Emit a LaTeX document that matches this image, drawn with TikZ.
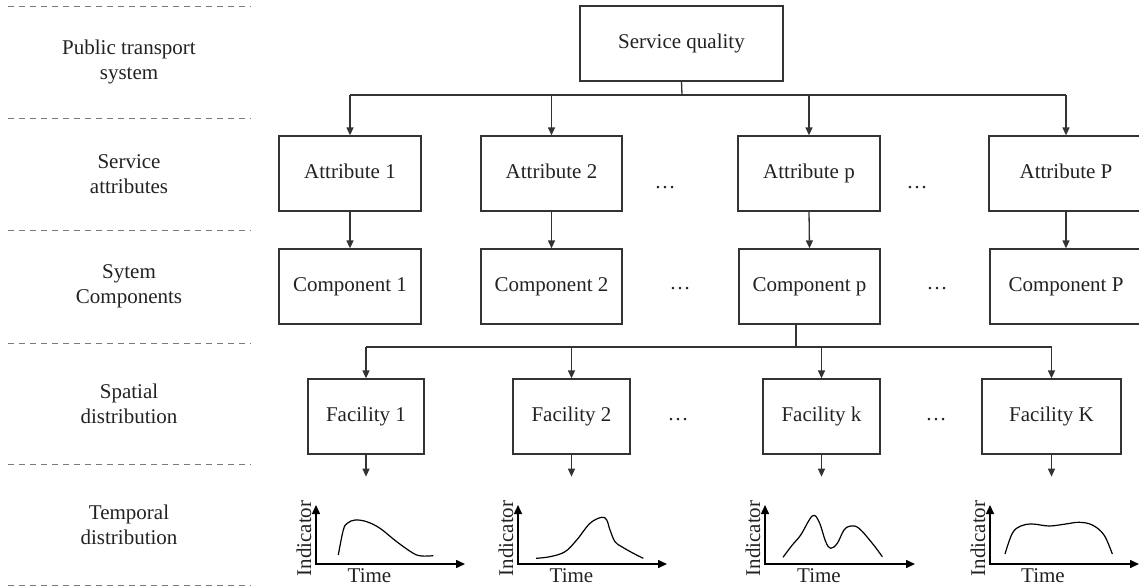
\documentclass[tikz,border=0pt]{standalone}
\usepackage{fontspec}
\setmainfont{Liberation Serif}
\usetikzlibrary{arrows.meta}
\definecolor{boxc}{HTML}{333333}
\definecolor{txtc}{HTML}{222222}
\definecolor{sepc}{HTML}{7A7A7A}
\begin{document}
\begin{tikzpicture}[x=1pt,y=-1pt,
  box/.style={draw=boxc, line width=1.3pt, minimum height=75pt, inner sep=0pt, text height=14.5pt, text depth=4.5pt, font=\fontsize{21}{25}\selectfont, text=txtc},
  lbl/.style={align=center, font=\fontsize{21}{25}\selectfont, text=txtc},
  sepline/.style={draw=sepc, line width=0.9pt, dash pattern=on 6pt off 5pt},
  conn/.style={draw=boxc, line width=1.3pt},
  arr/.style={conn, -{Triangle[length=8pt,width=7pt]}},
  ax/.style={draw=black, line width=1.5pt, {Triangle[length=9pt,width=8pt]}-{Triangle[length=9pt,width=8pt]}},
  crv/.style={draw=black, line width=1.2pt},
  ellip/.style={font=\fontsize{21}{25}\selectfont, text=txtc, inner sep=0pt}
]
\useasboundingbox (0,0) rectangle (1139,586);

% separators
\foreach \yy in {6,118,230,343,464,585} \draw[sepline] (8,\yy) -- (251,\yy);

% left labels
\node[lbl] (l1) at (129,62) {Public transport\\system};
\node[lbl] (l2) at (129,174) {Service\\attributes};
\node[lbl] (l3) at (129,286.5) {Sytem\\Components};
\node[lbl] (l4) at (129,403.5) {Spatial\\distribution};
\node[lbl] (l5) at (129,524.5) {Temporal\\distribution};

% boxes
\node[box, minimum width=203pt] (sq) at (681.5,43.5) {Service quality};

\node[box, minimum width=142pt] (a1) at (350,173.5) {Attribute 1};
\node[box, minimum width=141pt] (a2) at (551.5,173.5) {Attribute 2};
\node[box, minimum width=142pt] (ap) at (809,173.5) {Attribute p};
\node[box, minimum width=154pt] (aP) at (1066,173.5) {Attribute P};

\node[box, minimum width=142pt] (c1) at (350,286.5) {Component 1};
\node[box, minimum width=141pt] (c2) at (551.5,286.5) {Component 2};
\node[box, minimum width=141pt] (cp) at (809.5,286.5) {Component p};
\node[box, minimum width=152pt] (cP) at (1066,286.5) {Component P};

\node[box, minimum width=116pt] (f1) at (366,416.5) {Facility 1};
\node[box, minimum width=117pt] (f2) at (571.5,416.5) {Facility 2};
\node[box, minimum width=117pt] (fk) at (821.5,416.5) {Facility k};
\node[box, minimum width=139pt] (fK) at (1051.5,416.5) {Facility K};

% ellipses
\node[ellip] (e1) at (665,188) {…};
\node[ellip] (e2) at (917,188) {…};
\node[ellip] (e3) at (680,289) {…};
\node[ellip] (e4) at (937,289) {…};
\node[ellip] (e5) at (678,420) {…};
\node[ellip] (e6) at (936,420) {…};

% bus 1
\coordinate (b1) at (682,95);
\draw[conn] (sq.south) -- (b1);
\draw[conn] (a1.north |- b1) -- (aP.north |- b1);
\foreach \n in {a1,a2,ap,aP} \draw[arr] (\n.north |- b1) -- (\n.north);

% attributes -> components
\foreach \a/\c in {a1/c1,a2/c2,ap/cp,aP/cP} \draw[arr] (\a.south) -- (\c.north);

% bus 2
\coordinate (b2) at (796,347);
\draw[conn] (b2 |- cp.south) -- (b2);
\draw[conn] (f1.north |- b2) -- (fK.north |- b2);
\foreach \n in {f1,f2,fk,fK} \draw[arr] (\n.north |- b2) -- (\n.north);

% facility -> temporal
\foreach \n in {f1,f2,fk,fK} \draw[arr] (\n.south) -- ++(0,22);

% plot 1
\draw[ax] (316,505) -- (316,564) -- (465,564);
\node[lbl, rotate=90, inner sep=0pt] (i1) at (304,538.5) {Indicator};
\node[lbl, anchor=base, inner sep=0pt] (t1) at (369.5,582) {Time};
\draw[crv] plot[smooth, tension=0.6] coordinates {(338.3,555) (343.3,530) (347.3,523.3) (355,520) (366.7,521.7) (380,528.3) (396.7,541.7) (413.3,553.3) (421.7,556) (433.3,555.7)};

% plot 2
\draw[ax] (518,505) -- (518,564) -- (667,564);
\node[lbl, rotate=90, inner sep=0pt] (i2) at (506,538.5) {Indicator};
\node[lbl, anchor=base, inner sep=0pt] (t2) at (571.5,582) {Time};
\draw[crv] plot[smooth, tension=0.6] coordinates {(536,558.3) (550,556.7) (565,551.7) (576.7,540) (590,523.3) (601.7,517.3) (606.7,520) (610,530) (615,541.7) (621.7,546.7) (633.3,553.3) (643.3,558.3)};

% plot k
\draw[ax] (765,505) -- (765,564) -- (915,564);
\node[lbl, rotate=90, inner sep=0pt] (i3) at (753,538.5) {Indicator};
\node[lbl, anchor=base, inner sep=0pt] (t3) at (819,582) {Time};
\draw[crv] plot[smooth, tension=0.6] coordinates {(783,557.3) (792.3,545) (800.7,535) (812.3,516) (819,521.7) (825.7,541.7) (830.7,548.3) (837.3,543.3) (844,530) (850.7,526) (859,528.3) (872.3,543.3) (882.3,556.7)};

% plot K
\draw[ax] (990,505) -- (990,564) -- (1139,564);
\node[lbl, rotate=90, inner sep=0pt] (i4) at (978,538.5) {Indicator};
\node[lbl, anchor=base, inner sep=0pt] (t4) at (1043,582) {Time};
\draw[crv] plot[smooth, tension=0.6] coordinates {(1005,554) (1012.3,533.3) (1020.7,526) (1032.3,524) (1049,526) (1065.7,524) (1079,522.3) (1092.3,525) (1104,535) (1112.3,554)};
\end{tikzpicture}
\end{document}
